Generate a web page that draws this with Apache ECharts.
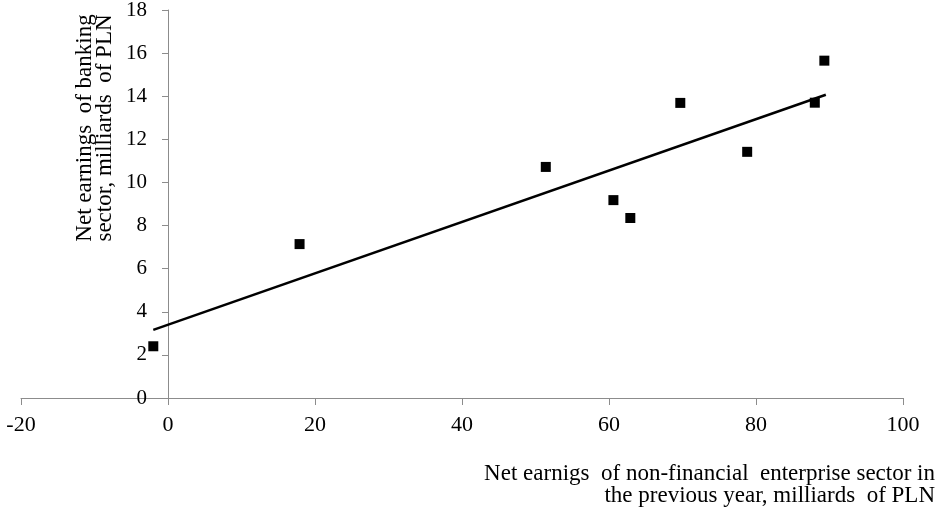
<!DOCTYPE html>
<html>
<head>
<meta charset="utf-8">
<script src="https://cdn.jsdelivr.net/npm/echarts@6/dist/echarts.min.js"></script>
<style>
  html, body { margin: 0; padding: 0; background: #fff; }
  #chart { width: 937px; height: 512px; }
</style>
</head>
<body>
<div id="chart"></div>
<script>
// Net earnings of non-financial enterprises (previous year) vs. banking sector, bn PLN
const enterpriseEarnings = [-2.0, 17.9, 51.4, 60.6, 62.9, 69.7, 78.8, 88.0, 89.3];
const bankingEarnings    = [2.4, 7.14, 10.72, 9.18, 8.35, 13.69, 11.42, 13.7, 15.65];

// Linear trend line end points
const trendX = [-2.0, 89.5];
const trendY = [3.16, 14.07];

const xTicks = { min: -20, max: 100, interval: 20 };
const yTicks = { min: 0, max: 18, interval: 2 };

const xTitle = 'Net earnigs  of non-financial  enterprise sector in\nthe previous year, milliards  of PLN';
const yTitle = 'Net earnings  of banking\nsector, milliards  of PLN';

const serif = '"Liberation Serif", "DejaVu Serif", serif';
const axisGrey = '#8c8c8c';

const W = 937, H = 512;
const gridBox = { left: 21, right: 34, top: 10, bottom: 114 };
// The value axis sits on x = 0: shift it right from the grid's left edge
const plotWidth = W - gridBox.left - gridBox.right;
const yAxisShift = plotWidth * (0 - xTicks.min) / (xTicks.max - xTicks.min);

const points = enterpriseEarnings.map((x, i) => [x, bankingEarnings[i]]);
const trend = trendX.map((x, i) => [x, trendY[i]]);

const chart = echarts.init(document.getElementById('chart'), null, { renderer: 'canvas' });
chart.setOption({
  animation: false,
  backgroundColor: '#fff',
  grid: Object.assign({ containLabel: false, outerBoundsMode: 'none' }, gridBox),
  xAxis: {
    type: 'value',
    min: xTicks.min, max: xTicks.max, interval: xTicks.interval,
    splitLine: { show: false },
    axisLine: { show: true, onZero: false, lineStyle: { color: axisGrey, width: 1 } },
    axisTick: { show: true, length: 7, lineStyle: { color: axisGrey } },
    axisLabel: { color: '#000', fontFamily: serif, fontSize: 22, margin: 16 }
  },
  yAxis: {
    type: 'value',
    offset: -yAxisShift,
    min: yTicks.min, max: yTicks.max, interval: yTicks.interval,
    splitLine: { show: false },
    axisLine: { show: true, onZero: false, lineStyle: { color: axisGrey, width: 1 } },
    axisTick: { show: true, length: 6, lineStyle: { color: axisGrey } },
    axisLabel: { color: '#000', fontFamily: serif, fontSize: 21, margin: 21 }
  },
  graphic: [
    {
      type: 'text',
      x: 95, y: 128,
      rotation: Math.PI / 2,
      style: {
        text: yTitle,
        fill: '#000',
        font: '23px ' + serif,
        lineHeight: 20,
        align: 'center',
        verticalAlign: 'middle'
      }
    },
    {
      type: 'text',
      x: 935, y: 463,
      style: {
        text: xTitle,
        fill: '#000',
        font: '23px ' + serif,
        lineHeight: 22,
        align: 'right',
        verticalAlign: 'top'
      }
    }
  ],
  series: [
    {
      type: 'scatter',
      data: points,
      symbol: 'rect',
      symbolSize: 10,
      itemStyle: { color: '#000', opacity: 1 },
      z: 3
    },
    {
      type: 'line',
      data: trend,
      showSymbol: false,
      symbol: 'none',
      lineStyle: { color: '#000', width: 2.5 },
      z: 2
    }
  ]
});
</script>
</body>
</html>
